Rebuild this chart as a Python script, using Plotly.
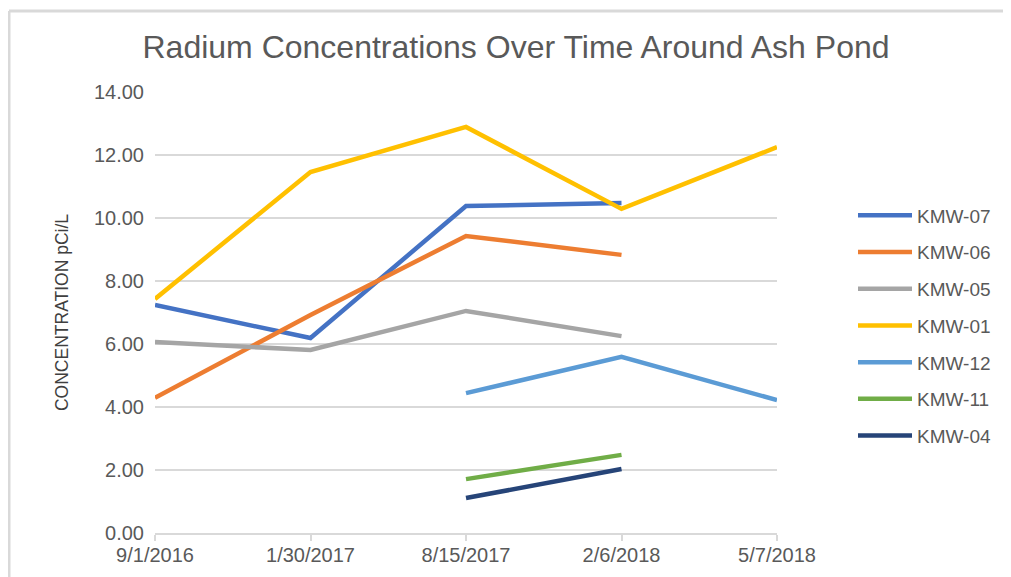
import plotly.graph_objects as go

dates = ["9/1/2016", "1/30/2017", "8/15/2017", "2/6/2018", "5/7/2018"]
kmw07 = [7.24, 6.19, 10.38, 10.48, None]
kmw06 = [4.29, 6.92, 9.43, 8.83, None]
kmw05 = [6.06, 5.81, 7.05, 6.25, None]
kmw01 = [7.43, 11.46, 12.89, 10.29, 12.25]
kmw12 = [None, None, 4.44, 5.59, 4.22]
kmw11 = [None, None, 1.71, 2.48, None]
kmw04 = [None, None, 1.11, 2.03, None]

series = [
    ("KMW-07", kmw07, "#4472C4"),
    ("KMW-06", kmw06, "#ED7D31"),
    ("KMW-05", kmw05, "#A5A5A5"),
    ("KMW-01", kmw01, "#FFC000"),
    ("KMW-12", kmw12, "#5B9BD5"),
    ("KMW-11", kmw11, "#70AD47"),
    ("KMW-04", kmw04, "#264478"),
]

OFF = 8  # browser body margin
W, H = 1011 - OFF, 577 - OFF
L, T = 155 - OFF, 92 - OFF
pw, ph = 622, 441
R, B = W - L - pw, H - T - ph

fig = go.Figure()
for name, vals, col in series:
    fig.add_trace(go.Scatter(
        x=list(range(len(dates))), y=vals, name=name, mode="lines",
        legendgroup=name,
        line=dict(color=col, width=4.5), connectgaps=False,
    ))


def px2x(px):
    return (px - OFF - L) / pw


def py2y(py):
    return (T + ph - (py - OFF)) / ph


fig.update_layout(
    width=W, height=H,
    margin=dict(l=L, r=R, t=T, b=B, autoexpand=False),
    paper_bgcolor="white", plot_bgcolor="white",
    font=dict(family="Liberation Sans, Arial, sans-serif", color="#595959"),
    title=dict(text="Radium Concentrations Over Time Around Ash Pond",
               x=(516 - OFF) / W, xanchor="center", y=1 - (47 - OFF) / H, yanchor="middle",
               font=dict(size=32, color="#595959")),
    showlegend=True,
    legend=dict(x=px2x(853), xanchor="left", y=py2y(325.5), yanchor="middle",
                font=dict(size=19, color="#595959"), tracegroupgap=9,
                itemwidth=54, bgcolor="rgba(0,0,0,0)"),
    xaxis=dict(
        tickmode="array", tickvals=list(range(len(dates))), ticktext=dates,
        range=[0, 4], showgrid=False, zeroline=False,
        showline=True, linecolor="#D9D9D9", linewidth=1.5,
        ticks="outside", ticklen=6, tickcolor="#D9D9D9", tickwidth=1.5,
        ticklabelstandoff=-3,
        tickfont=dict(size=20, color="#595959"),
    ),
    yaxis=dict(
        range=[0, 14], tickvals=[0, 2, 4, 6, 8, 10, 12, 14], tickformat=".2f",
        showgrid=True, gridcolor="#D9D9D9", gridwidth=1.5,
        zeroline=False, showline=False, ticks="", ticklabelstandoff=10,
        tickfont=dict(size=20, color="#595959"),
        title=dict(text="CONCENTRATION pCi/L", font=dict(size=17.5, color="#404040"),
                   standoff=20),
    ),
)

# chart-area frame (left and top edges visible)
fig.add_shape(type="line", xref="paper", yref="paper",
              x0=px2x(9), x1=px2x(1030), y0=py2y(11), y1=py2y(11),
              line=dict(color="#D9D9D9", width=3))
fig.add_shape(type="line", xref="paper", yref="paper",
              x0=px2x(9), x1=px2x(9), y0=py2y(11), y1=py2y(600),
              line=dict(color="#D9D9D9", width=3))

fig.write_html("out.html")
